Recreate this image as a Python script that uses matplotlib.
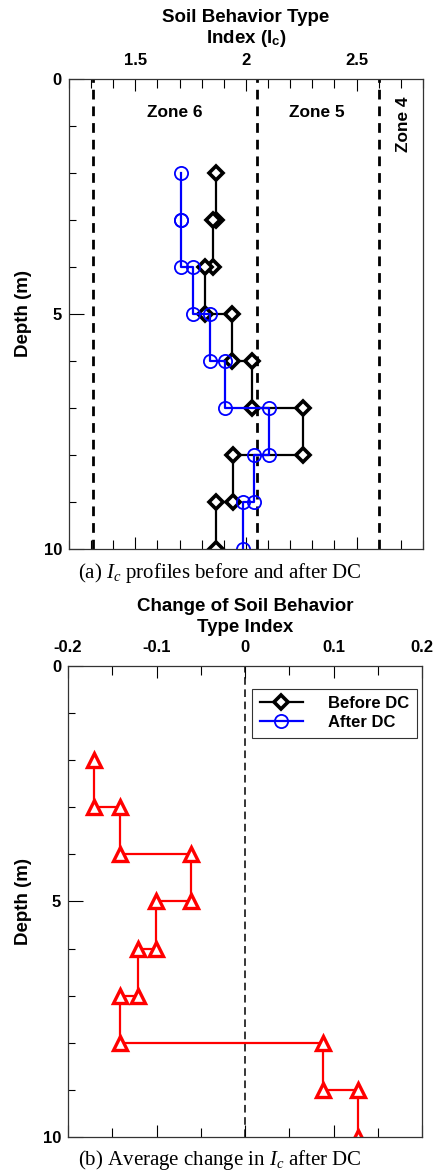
import matplotlib
matplotlib.use("Agg")
import matplotlib.pyplot as plt
from matplotlib.ticker import MultipleLocator

plt.rcParams['font.family'] = 'Liberation Sans'
plt.rcParams['font.weight'] = 'bold'
plt.rcParams['mathtext.fontset'] = 'custom'
plt.rcParams['mathtext.it'] = 'Liberation Serif:italic:normal'
plt.rcParams['mathtext.rm'] = 'Liberation Serif:normal'
plt.rcParams['mathtext.bf'] = 'Liberation Sans:bold'

# step profiles: each layer boundary appears twice (value above, value below)
depth_step = [2, 3, 3, 4, 4, 5, 5, 6, 6, 7, 7, 8, 8, 9, 9, 10]
ic_before = [1.865, 1.865, 1.85, 1.85, 1.817, 1.817, 1.937, 1.937,
             2.027, 2.027, 2.256, 2.256, 1.943, 1.943, 1.865, 1.865]
ic_after = [1.708, 1.708, 1.708, 1.708, 1.76, 1.76, 1.838, 1.838,
            1.907, 1.907, 2.105, 2.105, 2.038, 2.038, 1.985, 1.985]
ic_change = [-0.171, -0.171, -0.141, -0.141, -0.061, -0.061, -0.101, -0.101,
             -0.121, -0.121, -0.141, -0.141, 0.088, 0.088, 0.128, 0.128]

# Robertson zone boundaries
zone_bounds = [1.31, 2.05, 2.60]
zone_names = ['Zone 6', 'Zone 5', 'Zone 4']
zone_x = [1.68, 2.32, 2.71]
zone_depth = [0.72, 0.72, 0.96]
zone_rot = [0, 0, 90]

fig = plt.figure(figsize=(4.36, 11.76), dpi=100)


def style_axis(ax):
    ax.xaxis.tick_top()
    ax.xaxis.set_label_position('top')
    ax.yaxis.set_major_locator(MultipleLocator(5))
    ax.yaxis.set_minor_locator(MultipleLocator(1))
    ax.tick_params(axis='x', which='both', direction='in', top=True, bottom=True,
                   width=0.8, labelsize=12, pad=8)
    ax.tick_params(axis='x', which='major', length=8.5)
    ax.tick_params(axis='x', which='minor', length=6.5)
    ax.tick_params(axis='y', which='major', direction='in', length=11, width=0.8,
                   labelsize=12, pad=5)
    ax.tick_params(axis='y', which='minor', direction='in', length=5, width=0.8)
    for s in ax.spines.values():
        s.set_linewidth(0.9)
        s.set_color('#333333')
    ax.set_ylim(10, 0)
    ax.set_ylabel('Depth (m)', fontsize=13.5, fontweight='bold', labelpad=8)


# (a) Ic profiles
ax1 = fig.add_axes([0.158, 0.5332, 0.812, 0.3997])
for xb in zone_bounds:
    ax1.axvline(xb, color='black', lw=2, ls=(0, (3.5, 2.5)))
for name, zx, zd, rot in zip(zone_names, zone_x, zone_depth, zone_rot):
    ax1.text(zx, zd, name, ha='center', va='center', fontsize=12.4,
             fontweight='bold', rotation=rot)
ax1.plot(ic_before, depth_step, color='black', lw=1.6, marker='D', ms=7,
         mfc='white', mec='black', mew=2.6, label='Before DC')
ax1.plot(ic_after, depth_step, color='blue', lw=1.6, marker='o', ms=9.5,
         mfc='none', mec='blue', mew=1.3, label='After DC')
ax1.set_xlim(1.2, 2.8)
style_axis(ax1)
ax1.xaxis.set_major_locator(MultipleLocator(0.5))
ax1.xaxis.set_minor_locator(MultipleLocator(0.1))
ax1.set_xticks([1.5, 2.0, 2.5])
ax1.set_xticklabels(['1.5', '2', '2.5'])
ax1.set_xlabel('Soil Behavior Type\nIndex (I$_{\\mathbf{c}}$)', fontsize=13.5,
               fontweight='bold', labelpad=7, linespacing=1.15)
fig.text(0.505, 0.5125, '(a) $I_c$ profiles before and after DC',
         ha='center', va='center', fontsize=15, family='Liberation Serif',
         fontweight='normal')

# (b) change in Ic
ax2 = fig.add_axes([0.156, 0.0332, 0.812, 0.4005])
ax2.axvline(0, color='black', lw=1.1, ls=(0, (5, 3)))
ax2.plot(ic_change, depth_step, color='red', lw=1.6, marker='^', ms=9.5,
         mfc='white', mec='red', mew=2.4)
ax2.set_xlim(-0.2, 0.2)
style_axis(ax2)
ax2.xaxis.set_major_locator(MultipleLocator(0.1))
ax2.xaxis.set_minor_locator(MultipleLocator(0.05))
ax2.set_xticks([-0.2, -0.1, 0, 0.1, 0.2])
ax2.set_xticklabels(['-0.2', '-0.1', '0', '0.1', '0.2'])
ax2.set_xlabel('Change of Soil Behavior\nType Index', fontsize=13.5,
               fontweight='bold', labelpad=6, linespacing=1.25)

h, l = ax1.get_legend_handles_labels()
leg = ax2.legend(h, l, loc='upper right', bbox_to_anchor=(0.985, 0.952),
                 fontsize=12, frameon=True, fancybox=False, borderpad=0.45,
                 handlelength=2.6, labelspacing=0.25, handletextpad=1.5,
                 borderaxespad=0)
leg.get_frame().set_edgecolor('black')
leg.get_frame().set_linewidth(0.8)
for t in leg.get_texts():
    t.set_fontweight('bold')

fig.text(0.505, 0.0136, '(b) Average change in $I_c$ after DC',
         ha='center', va='center', fontsize=15, family='Liberation Serif',
         fontweight='normal')

fig.savefig('out.png', dpi=100)
